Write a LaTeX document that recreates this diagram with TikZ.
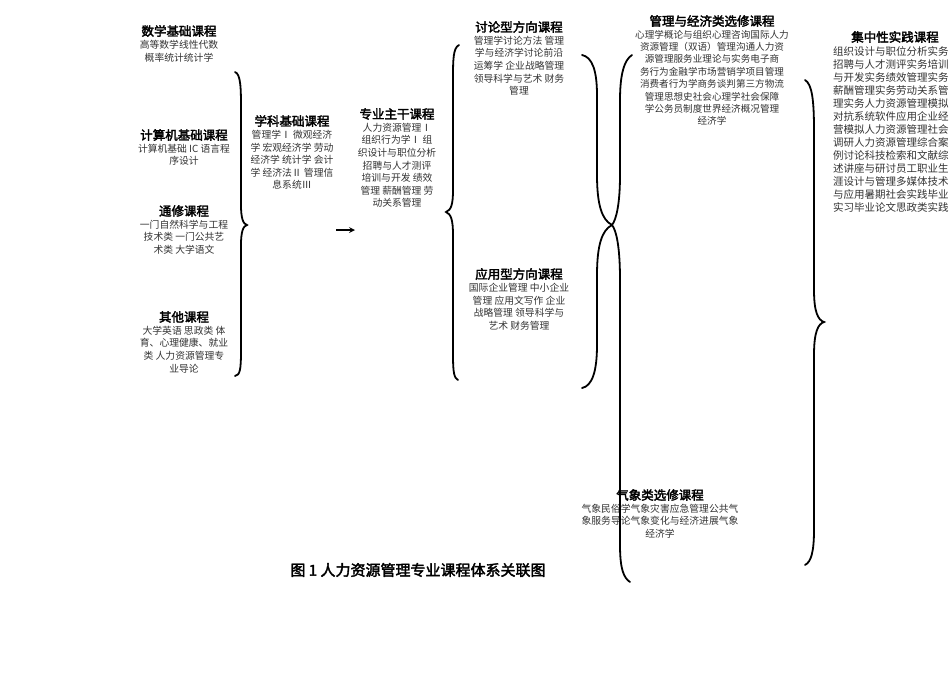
\documentclass[tikz,border=0pt]{standalone}
\usepackage{fontspec}
\setmainfont{Noto Sans CJK SC}
\newfontfamily\cjkb[FakeBold=2.5]{Noto Sans CJK SC}
\def\T#1{{\cjkb\fontsize{12.5}{15}\selectfont\color{black}#1}\\}
\begin{document}
\begin{tikzpicture}[x=1pt,y=-1pt,
  grp/.style={anchor=north,align=center,inner sep=0pt,font=\fontsize{9.8}{12.6}\selectfont,text=black!80},
  brc/.style={line width=1.8pt,line cap=round}]
\clip (0,0) rectangle (950,672);
\fill[white] (0,0) rectangle (950,672);
\node[grp] (math) at (179,25) {\T{数学基础课程}高等数学线性代数\\概率统计统计学};
\node[grp] (comp) at (184,129) {\T{计算机基础课程}计算机基础 IC 语言程\\序设计};
\node[grp] (gen) at (184,205) {\T{通修课程}一门自然科学与工程\\技术类 一门公共艺\\术类 大学语文};
\node[grp] (oth) at (184,311) {\T{其他课程}大学英语 思政类 体\\育、心理健康、就业\\类 人力资源管理专\\业导论};
\node[grp] (subj) at (292,115) {\T{学科基础课程}管理学Ⅰ 微观经济\\学 宏观经济学 劳动\\经济学 统计学 会计\\学 经济法Ⅱ 管理信\\息系统Ⅲ};
\node[grp] (core) at (397,108) {\T{专业主干课程}人力资源管理Ⅰ\\组织行为学Ⅰ 组\\织设计与职位分析\\招聘与人才测评\\培训与开发 绩效\\管理 薪酬管理 劳\\动关系管理};
\node[grp] (disc) at (519,21) {\T{讨论型方向课程}管理学讨论方法 管理\\学与经济学讨论前沿\\运筹学 企业战略管理\\领导科学与艺术 财务\\管理};
\node[grp] (app) at (519,268) {\T{应用型方向课程}国际企业管理 中小企业\\管理 应用文写作 企业\\战略管理 领导科学与\\艺术 财务管理};
\node[grp,font=\fontsize{9.6}{12.4}\selectfont] (mgt) at (712,15) {\T{管理与经济类选修课程}心理学概论与组织心理咨询国际人力\\资源管理（双语）管理沟通人力资\\源管理服务业理论与实务电子商\\务行为金融学市场营销学项目管理\\消费者行为学商务谈判第三方物流\\管理思想史社会心理学社会保障\\学公务员制度世界经济概况管理\\经济学};
\node[grp] (prac) at (895,31) {\T{集中性实践课程}};
\node[grp,anchor=north west,align=left,font=\fontsize{10.5}{13}\selectfont] (pracb) at (833,46) {组织设计与职位分析实务\\招聘与人才测评实务培训\\与开发实务绩效管理实务\\薪酬管理实务劳动关系管\\理实务人力资源管理模拟\\对抗系统软件应用企业经\\营模拟人力资源管理社会\\调研人力资源管理综合案\\例讨论科技检索和文献综\\述讲座与研讨员工职业生\\涯设计与管理多媒体技术\\与应用暑期社会实践毕业\\实习毕业论文思政类实践};
\node[grp] (met) at (660,489) {\T{气象类选修课程}气象民俗学气象灾害应急管理公共气\\象服务导论气象变化与经济进展气象\\经济学};
\node[anchor=center,inner sep=0pt] (cap) at (418,570) {\cjkb\fontsize{15}{17}\selectfont 图 1\ 人力资源管理专业课程体系关联图};
\draw[brc] (235,72) .. controls (241,74) and (241,90) .. (241,110) -- (241,205) .. controls (241,218) and (243,224) .. (247,225) .. controls (243,226) and (241,232) .. (241,245) -- (241,350) .. controls (241,370) and (240,375) .. (235,376);
\coordinate (a1) at (336,230); \coordinate (a2) at (355,230);
\draw[line width=1.6pt,-stealth] (a1) -- (a2);
\draw[brc] (459,45) .. controls (453,48) and (453,60) .. (453,80) -- (453,190) .. controls (453,205) and (451,210) .. (446,212) .. controls (451,214) and (453,220) .. (453,235) -- (453,355) .. controls (453,372) and (454,378) .. (458,380);
\coordinate (x) at (612,225);
\draw[brc] (582,55) .. controls (592,57) and (597,70) .. (597,95) -- (597,175) .. controls (597,205) and (602,220) .. (x);
\draw[brc] (582,388) .. controls (592,386) and (597,372) .. (597,345) -- (597,275) .. controls (597,245) and (602,230) .. (x);
\draw[brc] (632,55) .. controls (624,60) and (620,75) .. (620,100) -- (620,175) .. controls (620,205) and (616,220) .. (x);
\draw[brc] (x) .. controls (616,230) and (620,245) .. (620,280) -- (620,545) .. controls (620,570) and (624,578) .. (630,582);
\draw[brc] (805,80) .. controls (812,84) and (814,100) .. (814,130) -- (814,290) .. controls (814,312) and (818,320) .. (824,322) .. controls (818,324) and (814,332) .. (814,355) -- (814,530) .. controls (814,552) and (811,562) .. (805,565);
\end{tikzpicture}
\end{document}
